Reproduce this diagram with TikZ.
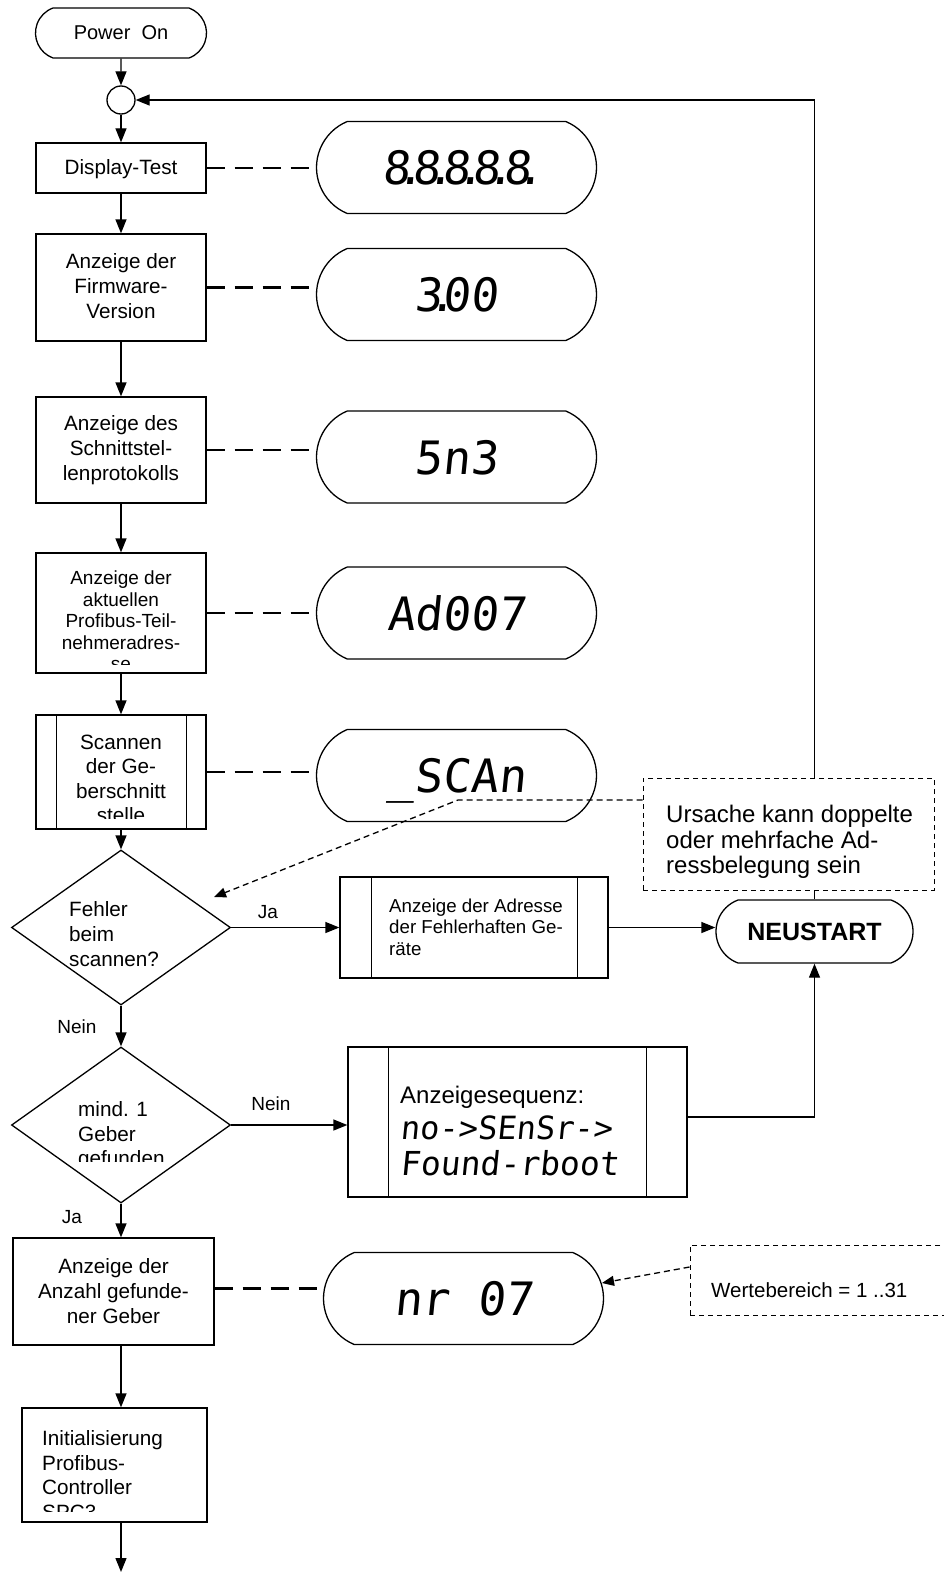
\documentclass[tikz,border=0pt]{standalone}
\usepackage{fontspec}
\setmainfont{Liberation Sans}
\newfontfamily\lcd{DejaVu Sans Mono}[FakeSlant=0.1]
\usetikzlibrary{arrows.meta,shapes.geometric,shapes.misc}
\newcommand\fsz[2]{\fontsize{#1}{#2}\selectfont}
% decimal point of a segment display: sits between two digits
\newcommand\lcddot{\makebox[0pt]{.}\kern2.5pt}

\begin{document}
\begin{tikzpicture}[x=1pt,y=-1pt,
  box/.style={draw, line width=1.3pt, inner sep=0pt},
  pill/.style={draw, line width=1.3pt, rounded rectangle, rounded rectangle arc length=135,
    minimum width=280pt, minimum height=92pt, inner sep=0pt,
    font=\lcd\fsz{46}{46}, text depth=0pt},
  arr/.style={line width=1.3pt, -{Triangle[length=14pt,width=11pt]}},
  link/.style={line width=2.6pt, dash pattern=on 18pt off 10pt},
  note/.style={draw, line width=1pt, dash pattern=on 5pt off 4pt, fill=white, inner sep=0pt},
  darr/.style={line width=1.3pt, dash pattern=on 6pt off 4pt, -{Triangle[length=12pt,width=10pt]}},
  txt/.style={inner sep=0pt, font=\fsz{20.7}{25}, align=center},
  lbl/.style={inner sep=0pt, font=\fsz{19}{22}},
  sub/.style={line width=1.3pt}
]
\useasboundingbox (0,0) rectangle (944,1573);

% --- main column ---
\node[draw, line width=1.3pt, rounded rectangle, rounded rectangle arc length=140,
      minimum width=171pt, minimum height=50pt, inner sep=0pt, font=\fsz{20}{24}]
      (pon) at (121,33) {Power\ \ On};
\node[draw, circle, line width=1.3pt, minimum size=28pt, inner sep=0pt] (jn) at (121,100) {};
\node[box, minimum width=170pt, minimum height=50pt] (dtest) at (121,168) {};
\node[txt] (tdtest) at (121,169) {Display-Test};

\node[box, minimum width=170pt, minimum height=107pt] (fw) at (121,287.5) {};
\node[txt] (tfw) at (121,286) {Anzeige der\\Firmware-\\Version};

\node[box, minimum width=170pt, minimum height=106pt] (sn) at (121,450) {};
\node[txt] (tsn) at (121,450) {Anzeige des\\Schnittstel-\\lenprotokolls};

\node[box, minimum width=170pt, minimum height=120pt] (pb) at (121,613) {};
\begin{scope}
  \clip (40,559) rectangle (202,664);
  \node[txt, font=\fsz{19}{21.5}] (tpb) at (121,621)
    {Anzeige der\\aktuellen\\Profibus-Teil-\\nehmeradres-\\se};
\end{scope}

\node[box, minimum width=170pt, minimum height=114pt] (sc) at (121,772) {};
\draw[sub] ([xshift=21pt]sc.north west) -- ([xshift=21pt]sc.south west);
\draw[sub] ([xshift=-20pt]sc.north east) -- ([xshift=-20pt]sc.south east);
\begin{scope}
  \clip (58,720) rectangle (185,818);
  \node[txt, font=\fsz{20.7}{24.5}] (tsc) at (121,779) {Scannen\\der Ge-\\berschnitt\\stelle};
\end{scope}

\node[draw, diamond, line width=1.3pt, minimum width=219pt, minimum height=155pt,
      inner sep=0pt] (d1) at (121,927.5) {};
\node[txt, align=left, anchor=west] (td1) at (69,934) {Fehler\\beim\\scannen?};

\node[draw, diamond, line width=1.3pt, minimum width=219pt, minimum height=156pt,
      inner sep=0pt] (d2) at (121,1125) {};
\begin{scope}
  \clip (60,1080) rectangle (200,1161);
  \node[txt, align=left, anchor=west, font=\fsz{20.7}{24.5}] (td2) at (78,1136) {mind. 1\\Geber\\gefunden};
\end{scope}

\node[box, minimum width=201pt, minimum height=107pt] (anz) at (113.5,1291.5) {};
\node[txt] (tanz) at (113.5,1291) {Anzeige der\\Anzahl gefunde-\\ner Geber};

\node[box, minimum width=185pt, minimum height=114pt] (init) at (114.5,1465) {};
\begin{scope}
  \clip (28,1414) rectangle (201,1511);
  \node[txt, align=left, anchor=west, font=\fsz{20.7}{24.7}] (tinit) at (42,1475)
    {Initialisierung\\Profibus-\\Controller\\SPC3};
\end{scope}
\coordinate (fin) at (121,1572);

% --- display pills ---
\node[pill] (p1) at (456.5,167.5) {8\lcddot8\lcddot8\lcddot8\lcddot8\makebox[0pt]{.}};
\node[pill] (p2) at (456.5,294.5) {3\makebox[0pt]{.}00};
\node[pill] (p3) at (456.5,457) {5n3};
\node[pill] (p4) at (456.5,613) {Ad007};
\node[pill] (p5) at (456.5,775.5) {\_SCAn};
\node[pill] (p6) at (463.5,1298.5) {nr 07};

% --- right branch ---
\node[box, minimum width=268pt, minimum height=101pt] (b2) at (474,927.5) {};
\draw[sub] ([xshift=32pt]b2.north west) -- ([xshift=32pt]b2.south west);
\draw[sub] ([xshift=-31pt]b2.north east) -- ([xshift=-31pt]b2.south east);
\node[txt, align=left, anchor=west, font=\fsz{18.7}{21.5}] (tb2) at (389,927)
  {Anzeige der Adresse\\der Fehlerhaften Ge-\\räte};

\node[draw, line width=1.3pt, rounded rectangle, rounded rectangle arc length=140,
      minimum width=197pt, minimum height=63pt, inner sep=0pt,
      font=\bfseries\fsz{25}{28}] (neu) at (814.5,931.5) {NEUSTART};

\node[box, minimum width=339pt, minimum height=150pt] (seq) at (517.5,1122) {};
\draw[sub] ([xshift=41pt]seq.north west) -- ([xshift=41pt]seq.south west);
\draw[sub] ([xshift=-41pt]seq.north east) -- ([xshift=-41pt]seq.south east);
\node[inner sep=0pt, anchor=west, font=\fsz{24}{26}] (tseq) at (400,1097) {Anzeigesequenz:};
\node[inner sep=0pt, anchor=west, font=\lcd\fsz{32}{32}] (tseqa) at (400,1128) {no->SEnSr->};
\node[inner sep=0pt, anchor=west, font=\lcd\fsz{33}{33}] (tseqb) at (400,1163) {Found-rboot};

% --- flow connectors ---
\draw[arr] (pon) -- (jn);
\draw[arr] (jn) -- (dtest);
\draw[arr] (dtest) -- (fw);
\draw[arr] (fw) -- (sn);
\draw[arr] (sn) -- (pb);
\draw[arr] (pb) -- (sc);
\draw[arr] (sc) -- (d1);
\draw[arr] (d1) -- (d2);
\draw[arr] (d2.south) -- (d2.south |- anz.north);
\draw[arr] (d2.south |- anz.south) -- (d2.south |- init.north);
\draw[arr] (d2.south |- init.south) -- (fin);

\draw[arr] (d1.east) -- (d1.east -| b2.west);
\draw[arr] (b2.east |- d1.east) -- (d1.east -| neu.west);
\draw[arr] (d2.east) -- (d2.east -| seq.west);
\draw[arr] (seq.east |- 0,1117) -- (neu.south |- 0,1117) -- (neu.south);

% return path to the junction, passing behind the note
\draw[arr] (neu.north) -- (neu.north |- jn) -- (jn.east);

\node[lbl] (lja1) at (268,912) {Ja};
\node[lbl] (lnein1) at (77,1027) {Nein};
\node[lbl] (lnein2) at (271,1104) {Nein};
\node[lbl] (lja2) at (72,1217) {Ja};

% --- box to display links ---
\draw[link] (dtest.east) -- (dtest.east -| p1.west);
\draw[link] (fw.east) -- (fw.east -| p2.west);
\draw[link] (sn.east) -- (sn.east -| p3.west);
\draw[link] (pb.east) -- (pb.east -| p4.west);
\draw[link] (sc.east) -- (sc.east -| p5.west);
\draw[link] ([yshift=3pt]anz.east) -- ([yshift=3pt]anz.east -| p6.west);

% --- notes ---
\node[note, minimum width=291pt, minimum height=112pt] (note1) at (788.5,834) {};
\node[inner sep=0pt, anchor=west, align=left, font=\fsz{24}{25.5}] (tnote1) at (666,842)
  {Ursache kann doppelte\\oder mehrfache Ad-\\ressbelegung sein};
\coordinate (k1) at (458,800);
\coordinate (t1) at (214,897);
\draw[darr] (note1.west |- k1) -- (k1) -- (t1);

\node[note, minimum width=270pt, minimum height=70pt] (note2) at (825,1280) {};
\node[inner sep=0pt, anchor=west, font=\fsz{20.5}{22}] (tnote2) at (711,1290) {Wertebereich = 1 ..31};
\coordinate (t2) at (602,1283);
\draw[darr] (note2.west |- 0,1267) -- (t2);
\end{tikzpicture}
\end{document}
